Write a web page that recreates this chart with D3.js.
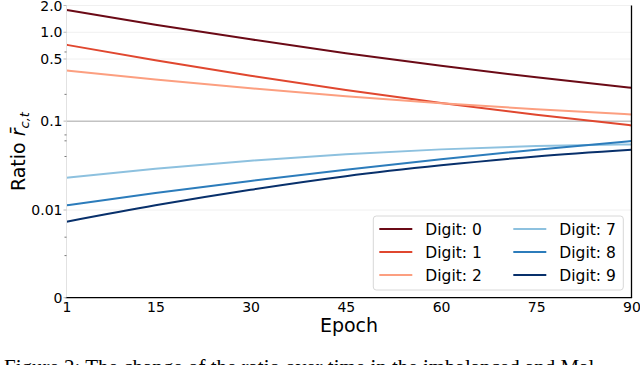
<!DOCTYPE html>
<html>
<head>
<meta charset="utf-8">
<script src="https://cdn.jsdelivr.net/npm/d3@7"></script>
<style>
  html, body { margin: 0; padding: 0; background: #fff; overflow: hidden; }
  svg { display: block; font-family: "DejaVu Sans", sans-serif; }
</style>
</head>
<body>
<svg id="chart" width="640" height="365"></svg>
<script>
var epochs = [1, 15, 30, 45, 60, 75, 90];

var digit0 = [1.785, 1.217, 0.832, 0.582, 0.420, 0.311, 0.237];
var digit1 = [0.722, 0.483, 0.324, 0.224, 0.160, 0.118, 0.0895];
var digit2 = [0.371, 0.294, 0.234, 0.191, 0.159, 0.136, 0.119];
var digit7 = [0.0231, 0.0291, 0.0359, 0.0424, 0.0481, 0.0524, 0.0547];
var digit8 = [0.0113, 0.0155, 0.0212, 0.0284, 0.0373, 0.0477, 0.0596];
var digit9 = [0.00867, 0.0113, 0.0169, 0.0240, 0.0318, 0.0401, 0.0477];

var seriesNames = ["Digit: 0", "Digit: 1", "Digit: 2", "Digit: 7", "Digit: 8", "Digit: 9"];
var seriesColors = ["#6b0a16", "#e0472f", "#fc9f80", "#8dc1df", "#2c7cbb", "#08306b"];

var xTicks = [1, 15, 30, 45, 60, 75, 90];
var yTicks = [0, 0.01, 0.1, 0.5, 1.0, 2.0];
var yTickLabels = ["0", "0.01", "0.1", "0.5", "1.0", "2.0"];
var yMinorTicks = [0.6, 0.2, 0.07, 0.06, 0.04, 0.0069, 0.0048];
var refLine = 0.1;
var linThresh = 0.01;

(function () {
  var mLeft = 66.5, mRight = 631.5, mTop = 5.5, mBottom = 297.7, yThresh = 210;

  var svg = d3.select("#chart");

  var x = d3.scaleLinear().domain([1, 90]).range([mLeft, mRight]);

  // symlog-like axis: linear below 0.01, log above
  var yLin = d3.scaleLinear().domain([0, linThresh]).range([mBottom, yThresh]);
  var yLog = d3.scaleLog().domain([linThresh, 2]).range([yThresh, mTop]);
  function y(v) { return v < linThresh ? yLin(v) : yLog(v); }

  // grid
  svg.append("g").selectAll("line")
    .data(yTicks.filter(function (d) { return d > 0 && d !== refLine; }))
    .enter().append("line")
    .attr("x1", mLeft).attr("x2", mRight)
    .attr("y1", function (d) { return y(d); }).attr("y2", function (d) { return y(d); })
    .attr("stroke", "#f0f0f0").attr("stroke-width", 1);

  svg.append("line")
    .attr("x1", mLeft).attr("x2", mRight)
    .attr("y1", y(refLine)).attr("y2", y(refLine))
    .attr("stroke", "#c2c2c2").attr("stroke-width", 1.5);

  // lines
  var allSeries = [digit0, digit1, digit2, digit7, digit8, digit9];
  var line = d3.line()
    .x(function (d, i) { return x(epochs[i]); })
    .y(function (d) { return y(d); })
    .curve(d3.curveMonotoneX);

  svg.append("g").selectAll("path")
    .data(allSeries)
    .enter().append("path")
    .attr("d", line)
    .attr("fill", "none")
    .attr("stroke", function (d, i) { return seriesColors[i]; })
    .attr("stroke-width", 2);

  // spines
  svg.append("line").attr("x1", mLeft).attr("x2", mLeft).attr("y1", mTop).attr("y2", mBottom)
    .attr("stroke", "#e2e2e2").attr("stroke-width", 1);
  svg.append("line").attr("x1", mRight).attr("x2", mRight).attr("y1", mTop).attr("y2", mBottom)
    .attr("stroke", "#000").attr("stroke-width", 1.3);
  svg.append("line").attr("x1", mLeft - 1).attr("x2", mRight + 0.6).attr("y1", mBottom).attr("y2", mBottom)
    .attr("stroke", "#000").attr("stroke-width", 1.3);

  // x axis
  var xAxis = svg.append("g")
    .attr("transform", "translate(0," + mBottom + ")")
    .call(d3.axisBottom(x).tickValues(xTicks).tickSize(0).tickPadding(4));
  xAxis.select(".domain").remove();
  xAxis.selectAll("text").attr("font-size", 14).attr("fill", "#000")
    .attr("font-family", "DejaVu Sans");

  // y axis
  var yAxis = svg.append("g");
  yAxis.selectAll("line.major").data(yTicks).enter().append("line")
    .attr("class", "major")
    .attr("x1", mLeft - 3).attr("x2", mLeft)
    .attr("y1", function (d) { return y(d); }).attr("y2", function (d) { return y(d); })
    .attr("stroke", "#bbb").attr("stroke-width", 1);
  yAxis.selectAll("line.minor").data(yMinorTicks).enter().append("line")
    .attr("class", "minor")
    .attr("x1", mLeft - 2).attr("x2", mLeft)
    .attr("y1", function (d) { return y(d); }).attr("y2", function (d) { return y(d); })
    .attr("stroke", "#777").attr("stroke-width", 1);
  yAxis.selectAll("text").data(yTicks).enter().append("text")
    .attr("x", 62.5)
    .attr("y", function (d) { return y(d); })
    .attr("dy", "0.36em")
    .attr("text-anchor", "end")
    .attr("font-size", 14)
    .text(function (d, i) { return yTickLabels[i]; });

  // axis labels
  svg.append("text")
    .attr("x", (mLeft + mRight) / 2).attr("y", 332)
    .attr("text-anchor", "middle").attr("font-size", 19)
    .text("Epoch");

  var yl = svg.append("text")
    .attr("transform", "translate(25," + ((mTop + mBottom) / 2) + ") rotate(-90)")
    .attr("text-anchor", "middle").attr("font-size", 19);
  yl.append("tspan").text("Ratio ");
  yl.append("tspan").attr("font-style", "italic").text("r\u0304");
  yl.append("tspan").attr("font-style", "italic").attr("font-size", 13).attr("dy", 4).text("c,t");

  // legend
  var lg = svg.append("g");
  lg.append("rect")
    .attr("x", 373.3).attr("y", 216).attr("width", 250).attr("height", 74)
    .attr("rx", 3).attr("fill", "#fff").attr("fill-opacity", 0.85)
    .attr("stroke", "#d8d8d8").attr("stroke-width", 1);
  var rowY = [229, 252, 275];
  var colX = [379.3, 513.3];
  seriesNames.forEach(function (name, i) {
    var cx = colX[Math.floor(i / 3)], cy = rowY[i % 3];
    lg.append("line").attr("x1", cx).attr("x2", cx + 33).attr("y1", cy).attr("y2", cy)
      .attr("stroke", seriesColors[i]).attr("stroke-width", 2);
    lg.append("text").attr("x", cx + 46).attr("y", cy).attr("dy", "0.36em")
      .attr("font-size", 15.5).text(name);
  });

  // caption (cut off by the frame)
  svg.append("text")
    .attr("x", 4).attr("y", 374)
    .attr("font-family", "Liberation Serif").attr("font-size", 21)
    .text("Figure 2:  The change of the ratio over time in the imbalanced and Mal");
})();
</script>
</body>
</html>
